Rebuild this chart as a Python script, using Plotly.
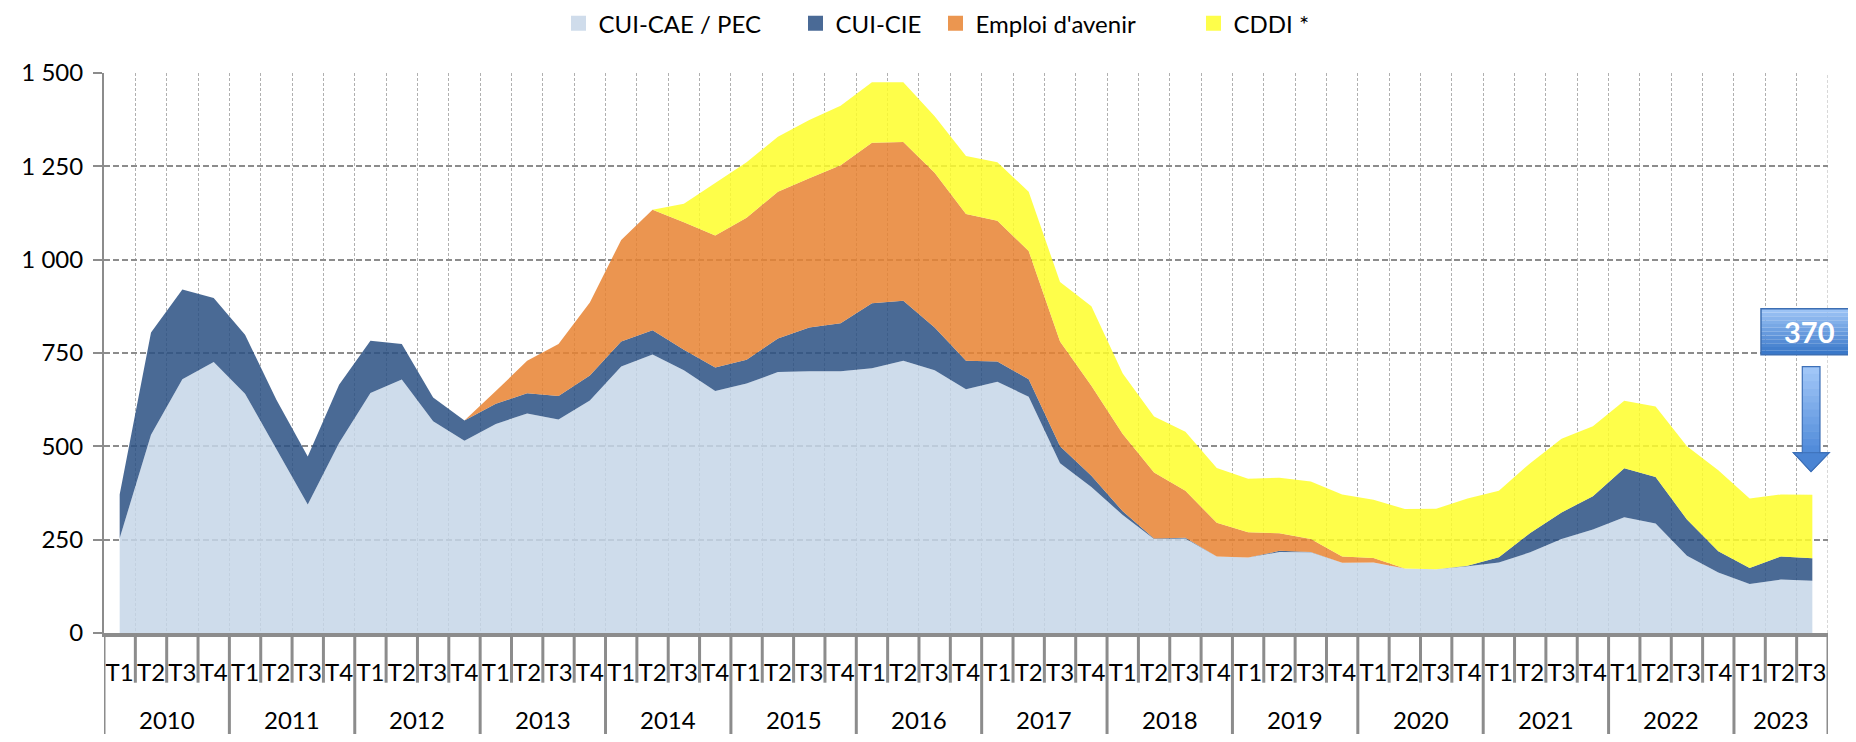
import plotly.graph_objects as go

# ---------------- data ----------------
years = ["2010", "2011", "2012", "2013", "2014", "2015", "2016",
         "2017", "2018", "2019", "2020", "2021", "2022", "2023"]
quarters_per_year = [4, 4, 4, 4, 4, 4, 4, 4, 4, 4, 4, 4, 4, 3]
quarter_names = ["T1", "T2", "T3", "T4"]

cui_cae = [254, 531, 680, 726, 641, 491, 344, 509, 643, 679, 567, 515,
           560, 588, 572, 623, 714, 746, 704, 648, 668, 699, 701, 701,
           709, 729, 704, 653, 673, 633, 455, 391, 316, 252, 253, 205,
           202, 217, 216, 188, 189, 173, 171, 179, 189, 216, 252, 277,
           310, 293, 207, 162, 131, 143, 140]
cui_cie = [117, 274, 240, 171, 158, 134, 129, 156, 140, 95, 64, 54,
           54, 54, 63, 67, 67, 65, 55, 63, 64, 90, 117, 129,
           174, 161, 114, 76, 54, 47, 45, 30, 10, 1, 2, 0,
           0, 3, 1, 0, 0, 0, 0, 1, 14, 52, 71, 89,
           131, 125, 97, 57, 43, 62, 60]
emploi_avenir = [0, 0, 0, 0, 0, 0, 0, 0, 0, 0, 0, 0,
                 34, 87, 139, 195, 272, 323, 341, 354, 380, 393, 400, 423,
                 430, 425, 415, 393, 377, 343, 281, 241, 207, 177, 126, 90,
                 68, 47, 35, 17, 12, 0, 0, 0, 0, 0, 0, 0,
                 0, 0, 0, 0, 0, 0, 0]
cddi = [0, 0, 0, 0, 0, 0, 0, 0, 0, 0, 0, 0,
        0, 0, 0, 0, 0, 0, 50, 140, 149, 147, 156, 159,
        162, 160, 151, 156, 157, 159, 159, 213, 162, 150, 158, 147,
        143, 149, 154, 166, 156, 159, 162, 180, 178, 187, 197, 188,
        181, 189, 196, 217, 186, 166, 170]

y_tickvals = [0, 250, 500, 750, 1000, 1250, 1500]
y_ticktext = ["0", "250", "500", "750", "1 000", "1 250", "1 500"]

series_names = ["CUI-CAE / PEC", "CUI-CIE", "Emploi d'avenir", "CDDI *"]
series_values = [cui_cae, cui_cie, emploi_avenir, cddi]
series_fill = ["rgba(198,214,231,0.85)", "rgba(42,80,131,0.85)",
               "rgba(231,131,49,0.85)", "rgba(254,254,42,0.85)"]
series_solid = ["#CFDCEB", "#4A6A96", "#EB9650", "#FEFE4A"]

# ---------------- categories ----------------
cats, qlabels = [], []
for y, n in zip(years, quarters_per_year):
    for q in quarter_names[:n]:
        cats.append(f"{y} {q}")
        qlabels.append(q)

FONT = "Lato, Roboto, sans-serif"
AXIS_GREY = "#8c8c8c"

# page has an 8px body margin; figure is sized so the page is 1856x742
OFF = 8
FIG_W, FIG_H = 1856 - 2 * OFF, 742 - 2 * OFF
# plot area in page (reference) pixel coordinates
L, R, T, B = 104, 1828, 73.3, 633.3
W, H = R - L, B - T


def px(x):
    return (x - L) / W


def py(y):
    return (B - y) / H


legend_ids = ["legend", "legend2", "legend3", "legend4"]
legend_square_left = [571, 808, 948, 1206]   # page px of each legend swatch

fig = go.Figure()
for name, vals, fc in zip(series_names, series_values, series_fill):
    fig.add_trace(go.Scatter(x=cats, y=vals, name=name, stackgroup="one",
                             mode="lines", line=dict(width=0), fillcolor=fc,
                             showlegend=False, hoverinfo="x+y+name"))
for name, col, lid in zip(series_names, series_solid, legend_ids):
    fig.add_trace(go.Scatter(x=[None], y=[None], name=name, mode="markers",
                             marker=dict(symbol="square", size=15, color=col,
                                         line=dict(width=0)),
                             showlegend=True, legend=lid))

shapes = []
year_bounds = [0]
for n in quarters_per_year:
    year_bounds.append(year_bounds[-1] + n)
for k in range(len(cats) + 1):
    long = k in year_bounds
    shapes.append(dict(type="line", xref="x", yref="paper", x0=k - 0.5, x1=k - 0.5,
                       y0=0, y1=py(735 if long else 683),
                       line=dict(color=AXIS_GREY, width=3), layer="above"))
shapes.append(dict(type="line", xref="x", yref="paper", x0=len(cats) - 0.5,
                   x1=len(cats) - 0.5, y0=0, y1=1,
                   line=dict(color="#b0b0b0", width=1, dash="3px,2px"), layer="below"))

annotations = []
for i, y in enumerate(years):
    start = year_bounds[i]
    n = quarters_per_year[i]
    annotations.append(dict(text=y, xref="x", yref="paper", x=start + (n - 1) / 2,
                            y=py(720), showarrow=False, yanchor="middle",
                            font=dict(size=24, color="#000000", family=FONT)))


def lerp(c1, c2, t):
    return "rgb({},{},{})".format(*[round(a + (b - a) * t) for a, b in zip(c1, c2)])


# callout box with gradient
bx0, bx1, by0, by1 = 1761, 1857, 309, 355
nstr = 12
for s in range(nstr):
    ya = by0 + (by1 - by0) * s / nstr
    yb = by0 + (by1 - by0) * (s + 1) / nstr
    shapes.append(dict(type="rect", xref="paper", yref="paper",
                       x0=px(bx0), x1=px(bx1), y0=py(yb), y1=py(ya),
                       fillcolor=lerp((156, 195, 245), (58, 120, 201), s / (nstr - 1)),
                       line=dict(width=0), layer="above"))
shapes.append(dict(type="rect", xref="paper", yref="paper",
                   x0=px(bx0), x1=px(bx1), y0=py(by1), y1=py(by0),
                   fillcolor="rgba(0,0,0,0)", line=dict(color="#3d6fb3", width=1.5),
                   layer="above"))
total_last = cui_cae[-1] + cui_cie[-1] + emploi_avenir[-1] + cddi[-1]
annotations.append(dict(text=f"<b>{total_last}</b>", xref="paper", yref="paper",
                        x=px((bx0 + bx1) / 2), y=py((by0 + by1) / 2), showarrow=False,
                        xanchor="center", yanchor="middle",
                        font=dict(size=29, color="white", family=FONT)))

# down arrow with gradient shaft
sx0, sx1, sy0, sy1 = 1802.3, 1820, 367, 453
for s in range(nstr):
    ya = sy0 + (sy1 - sy0) * s / nstr
    yb = sy0 + (sy1 - sy0) * (s + 1) / nstr + 0.5
    shapes.append(dict(type="rect", xref="paper", yref="paper",
                       x0=px(sx0), x1=px(sx1), y0=py(yb), y1=py(ya),
                       fillcolor=lerp((160, 198, 247), (82, 140, 218), s / (nstr - 1)),
                       line=dict(width=0), layer="above"))
head = "M {} {} L {} {} L {} {} Z".format(px(1793.3), py(453), px(1829.3), py(453),
                                          px(1811), py(472))
shapes.append(dict(type="path", xref="paper", yref="paper", path=head,
                   fillcolor="#4a84d3", line=dict(color="#3d70b8", width=1), layer="above"))
outline = "M {a} {t} L {a} {h} L {hl} {h} L {tx} {ty} L {hr} {h} L {b} {h} L {b} {t} Z".format(
    a=px(sx0), b=px(sx1), t=py(sy0), h=py(sy1), hl=px(1793.3), hr=px(1829.3),
    tx=px(1811), ty=py(472))
shapes.append(dict(type="path", xref="paper", yref="paper", path=outline,
                   fillcolor="rgba(0,0,0,0)", line=dict(color="#3d70b8", width=1.2),
                   layer="above"))

legend_layout = {}
for lid, sq in zip(legend_ids, legend_square_left):
    legend_layout[lid] = dict(orientation="h", x=px(sq + 7.5 - 20), xanchor="left",
                              y=py(24), yanchor="middle",
                              font=dict(size=24, family=FONT, color="#000000"),
                              bgcolor="rgba(0,0,0,0)", borderwidth=0,
                              itemsizing="trace")

fig.update_layout(
    width=FIG_W, height=FIG_H,
    margin=dict(l=L - OFF, r=(1856 - OFF) - R, t=T - OFF, b=(742 - OFF) - B, pad=0,
                autoexpand=False),
    paper_bgcolor="white", plot_bgcolor="white",
    font=dict(family=FONT, color="#000000"),
    showlegend=True,
    shapes=shapes, annotations=annotations,
    hovermode="x unified",
    **legend_layout,
)
fig.update_xaxes(type="category", categoryorder="array", categoryarray=cats,
                 range=[-0.5, len(cats) - 0.5], tickmode="array", tickvals=cats,
                 ticktext=qlabels, tickson="boundaries", ticks="outside", ticklen=12,
                 tickcolor="rgba(0,0,0,0)", tickangle=0, ticklabelstandoff=15,
                 tickfont=dict(size=24, family=FONT, color="#000000"),
                 showgrid=True, gridcolor="#b0b0b0", gridwidth=1, griddash="3px,2px",
                 showline=True, linecolor=AXIS_GREY, linewidth=4, zeroline=False,
                 fixedrange=True)
fig.update_yaxes(range=[0, 1500], tickmode="array", tickvals=y_tickvals,
                 ticktext=y_ticktext, ticks="outside", ticklen=9, tickwidth=1.5,
                 tickcolor=AXIS_GREY, tickfont=dict(size=24, family=FONT, color="#000000"),
                 ticklabelstandoff=5,
                 showgrid=True, gridcolor=AXIS_GREY, gridwidth=1.6, griddash="6px,3px",
                 showline=True, linecolor=AXIS_GREY, linewidth=2, zeroline=False,
                 fixedrange=True)

fig.write_html("out.html")
